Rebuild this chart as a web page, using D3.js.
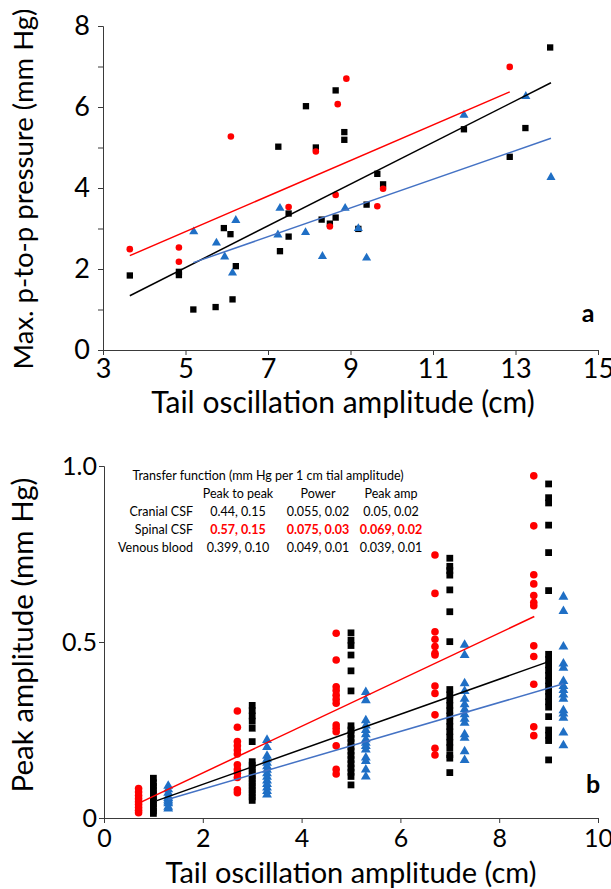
<!DOCTYPE html>
<html>
<head>
<meta charset="utf-8">
<script src="https://cdn.jsdelivr.net/npm/d3@7"></script>
<style>
  body { margin: 0; background: #fff; }
  svg { display: block; font-family: Lato, "Open Sans", sans-serif; }
</style>
</head>
<body>
<div id="chart"></div>
<script>
// ---- panel a data (Max. p-to-p pressure vs tail amplitude)
var aRed = [[3.65,2.49],[4.84,2.53],[4.84,2.18],[6.10,5.27],[7.50,3.53],[8.16,4.90],[8.50,3.05],
  [8.64,3.83],[8.69,6.07],[8.90,6.70],[9.65,3.55],[9.79,3.98],[12.86,6.99]];
var aBlack = [[3.65,1.84],[4.84,1.85],[4.84,1.93],[5.19,1.00],[5.73,1.06],[5.93,3.01],[6.09,2.86],
  [6.14,1.25],[6.22,2.07],[7.25,5.02],[7.29,2.44],[7.50,3.37],[7.50,2.80],[7.92,6.02],[8.16,5.00],
  [8.30,3.22],[8.50,3.12],[8.64,3.27],[8.64,6.41],[8.85,5.38],[8.85,5.19],[9.19,2.99],[9.39,3.59],
  [9.65,4.35],[9.79,4.09],[11.75,5.45],[12.86,4.77],[13.24,5.48],[13.84,7.47]];
var aBlue = [[5.20,2.91],[5.75,2.63],[5.95,2.29],[6.14,1.89],[6.22,3.19],[7.24,2.83],[7.29,3.49],
  [7.91,2.89],[8.32,2.30],[8.87,3.49],[9.19,2.99],[9.39,2.26],[11.75,5.79],[13.25,6.25],[13.86,4.25]];
// trend lines: [slope, intercept, xFrom, xTo]
var aFitRed = [0.439, 0.728, 3.65, 12.86];
var aFitBlack = [0.515, -0.54, 3.65, 13.86];
var aFitBlue = [0.354, 0.32, 5.19, 13.86];
var aXTicks = [3, 5, 7, 9, 11, 13, 15];
var aYTicks = [0, 1, 2, 3, 4, 5, 6, 7, 8];

// ---- panel b data (peak amplitude, grouped by tail amplitude)
var bRedX = [0.7, 2.7, 4.7, 6.7, 8.7];
var bRedY = [
  [0.084,0.074,0.064,0.055,0.046,0.038,0.030,0.022,0.015],
  [0.304,0.258,0.217,0.205,0.193,0.182,0.151,0.138,0.127,0.115,0.080,0.072],
  [0.525,0.449,0.373,0.362,0.349,0.337,0.326,0.264,0.255,0.245,0.205,0.138,0.125],
  [0.747,0.638,0.529,0.508,0.487,0.468,0.463,0.375,0.354,0.293,0.198,0.179],
  [0.972,0.830,0.691,0.665,0.632,0.612,0.603,0.489,0.459,0.380,0.259,0.234]];
var bBlackX = [1, 3, 5, 7, 9];
var bBlackY = [
  [0.113,0.10,0.09,0.08,0.07,0.06,0.05,0.04,0.03,0.02,0.013],
  [0.32,0.305,0.29,0.275,0.255,0.217,0.16,0.15,0.14,0.13,0.12,0.11,0.10,0.09,0.08,0.07,0.06,0.05],
  [0.526,0.505,0.49,0.463,0.418,0.361,0.262,0.25,0.238,0.226,0.214,0.202,0.19,0.178,0.166,0.154,0.142,0.13,0.118,0.094],
  [0.738,0.715,0.703,0.69,0.648,0.586,0.501,0.365,0.35,0.335,0.32,0.305,0.29,0.275,0.26,0.245,0.23,0.215,0.20,0.18,0.17,0.129],
  [0.949,0.91,0.895,0.832,0.754,0.646,0.465,0.45,0.435,0.42,0.405,0.39,0.375,0.36,0.345,0.33,0.315,0.288,0.25,0.235,0.22,0.165]];
var bBlueX = [1.3, 3.3, 5.3, 7.3, 9.3];
var bBlueY = [
  [0.09,0.08,0.07,0.06,0.055,0.05,0.045,0.04,0.03,0.025],
  [0.22,0.20,0.175,0.165,0.155,0.145,0.135,0.125,0.115,0.105,0.095,0.085,0.075,0.065],
  [0.356,0.333,0.276,0.261,0.248,0.236,0.222,0.212,0.203,0.193,0.170,0.160,0.136,0.116],
  [0.49,0.461,0.381,0.359,0.337,0.321,0.307,0.293,0.280,0.269,0.236,0.226,0.188,0.163],
  [0.627,0.586,0.485,0.437,0.425,0.387,0.373,0.362,0.349,0.337,0.304,0.295,0.283,0.241,0.205]];
var bFitRed = [0.0662, -0.0043, 0.76, 8.71];
var bFitBlack = [0.0498, -0.004, 1.07, 9.0];
var bFitBlue = [0.041, 0.0, 1.3, 9.3];
var bXTicks = [0, 2, 4, 6, 8, 10];
var bYTicks = [0, 0.5, 1.0];

// ---- table text
var tableTitle = "Transfer function (mm Hg per 1 cm tial amplitude)";
var tableCols = ["Peak to peak", "Power", "Peak amp"];
var tableRows = ["Cranial CSF", "Spinal CSF", "Venous blood"];
var tableVals = [["0.44, 0.15", "0.055, 0.02", "0.05, 0.02"],
                 ["0.57, 0.15", "0.075, 0.03", "0.069, 0.02"],
                 ["0.399, 0.10", "0.049, 0.01", "0.039, 0.01"]];

var RED = "#ff0000", BLK = "#000000", BLUE = "#1f6fc5", BLUELINE = "#4472c4", AXIS = "#3a3a3a";

var svg = d3.select("#chart").append("svg")
  .attr("width", 611).attr("height", 889);

function flatten(xs, ys) {
  var out = [];
  xs.forEach(function(x, i) { ys[i].forEach(function(y) { out.push([x, y]); }); });
  return out;
}

function drawPanel(cfg) {
  var g = svg.append("g");
  var x = cfg.x, y = cfg.y;

  // axes
  g.append("g")
    .attr("transform", "translate(0," + y.range()[0] + ")")
    .call(d3.axisBottom(x).tickValues(cfg.xTicks).tickSize(5).tickFormat(d3.format("d")))
    .call(function(a) {
      a.select(".domain").attr("stroke", AXIS);
      a.selectAll(".tick line").attr("stroke", AXIS);
      a.selectAll(".tick text").attr("fill", "#000").attr("font-size", cfg.tickFont)
        .attr("font-family", "Lato, sans-serif").attr("dy", 0).attr("y", cfg.xTickY);
    });
  g.append("g")
    .attr("transform", "translate(" + x.range()[0] + ",0)")
    .call(d3.axisLeft(y).tickValues(cfg.yTicks).tickSize(5).tickFormat(cfg.yFormat))
    .call(function(a) {
      a.select(".domain").attr("stroke", AXIS);
      a.selectAll(".tick line").attr("stroke", AXIS);
      a.selectAll(".tick text").attr("fill", "#000").attr("font-size", cfg.tickFont)
        .attr("font-family", "Lato, sans-serif").attr("x", cfg.yTickX);
    });

  // points
  var sq = d3.symbol().type(d3.symbolSquare).size(cfg.sqSize);
  var tri = d3.symbol().type(d3.symbolTriangle).size(cfg.triSize);
  g.append("g").selectAll("path").data(cfg.black).join("path")
    .attr("d", sq).attr("fill", BLK)
    .attr("transform", function(d) { return "translate(" + x(d[0]) + "," + y(d[1]) + ")"; });
  g.append("g").selectAll("circle").data(cfg.red).join("circle")
    .attr("cx", function(d) { return x(d[0]); })
    .attr("cy", function(d) { return y(d[1]); })
    .attr("r", cfg.r).attr("fill", RED);
  g.append("g").selectAll("path").data(cfg.blue).join("path")
    .attr("d", tri).attr("fill", BLUE)
    .attr("transform", function(d) { return "translate(" + x(d[0]) + "," + (y(d[1]) - 0.5) + ")"; });

  // trend lines
  var line = d3.line().x(function(d) { return x(d[0]); }).y(function(d) { return y(d[1]); });
  cfg.fits.forEach(function(f) {
    var p = f[0];
    g.append("path")
      .datum([[p[2], p[0] * p[2] + p[1]], [p[3], p[0] * p[3] + p[1]]])
      .attr("fill", "none").attr("stroke", f[1]).attr("stroke-width", 1.5)
      .attr("d", line);
  });

  // titles
  g.append("text")
    .attr("x", cfg.xTitlePos[0]).attr("y", cfg.xTitlePos[1])
    .attr("text-anchor", "middle").attr("font-size", cfg.xTitleFont)
    .text("Tail oscillation amplitude (cm)");
  g.append("text")
    .attr("transform", "translate(" + cfg.yTitlePos[0] + "," + cfg.yTitlePos[1] + ") rotate(-90)")
    .attr("text-anchor", "middle").attr("font-size", cfg.yTitleFont)
    .text(cfg.yTitle);
  g.append("text")
    .attr("x", cfg.letterPos[0]).attr("y", cfg.letterPos[1])
    .attr("text-anchor", "middle").attr("font-size", 25).attr("font-weight", "bold")
    .text(cfg.letter);
  return g;
}

drawPanel({
  x: d3.scaleLinear().domain([3, 15]).range([103, 598]),
  y: d3.scaleLinear().domain([0, 8]).range([350, 26]),
  xTicks: aXTicks, yTicks: aYTicks, tickFont: 27, xTickY: 28, yTickX: -13,
  yFormat: function(d) { return d % 2 === 0 ? d : ""; },
  red: aRed, black: aBlack, blue: aBlue, r: 3.3, sqSize: 40, triSize: 36,
  fits: [[aFitRed, RED], [aFitBlack, BLK], [aFitBlue, BLUELINE]],
  xTitleFont: 30, xTitlePos: [343, 413],
  yTitleFont: 27.5, yTitlePos: [33, 189],
  yTitle: "Max. p-to-p pressure (mm Hg)",
  letter: "a", letterPos: [588, 322]
});

drawPanel({
  x: d3.scaleLinear().domain([0, 10]).range([104, 598]),
  y: d3.scaleLinear().domain([0, 1]).range([818, 466]),
  xTicks: bXTicks, yTicks: bYTicks, tickFont: 25, xTickY: 29, yTickX: -7,
  yFormat: function(d) { return d === 0 ? "0" : d3.format(".1f")(d); },
  red: flatten(bRedX, bRedY), black: flatten(bBlackX, bBlackY), blue: flatten(bBlueX, bBlueY),
  r: 3.8, sqSize: 46, triSize: 42,
  fits: [[bFitRed, RED], [bFitBlack, BLK], [bFitBlue, BLUELINE]],
  xTitleFont: 29, xTitlePos: [351, 883],
  yTitleFont: 29.5, yTitlePos: [33, 635],
  yTitle: "Peak amplitude (mm Hg)",
  letter: "b", letterPos: [593, 793]
});

// transfer-function table
var tb = svg.append("g").attr("font-size", 12.5).attr("fill", "#000");
tb.append("text").attr("x", 268).attr("y", 480).attr("text-anchor", "middle").text(tableTitle);
var colX = [238, 318, 391];
tableCols.forEach(function(c, i) {
  tb.append("text").attr("x", colX[i]).attr("y", 498).attr("text-anchor", "middle").text(c);
});
tableRows.forEach(function(r, j) {
  var yy = 516 + j * 18;
  var spinal = j === 1;
  tb.append("text").attr("x", 193).attr("y", yy).attr("text-anchor", "end").text(r);
  tableVals[j].forEach(function(v, i) {
    tb.append("text").attr("x", colX[i]).attr("y", yy).attr("text-anchor", "middle")
      .attr("fill", spinal ? RED : "#000").attr("font-weight", spinal ? "bold" : "normal")
      .text(v);
  });
});
</script>
</body>
</html>
